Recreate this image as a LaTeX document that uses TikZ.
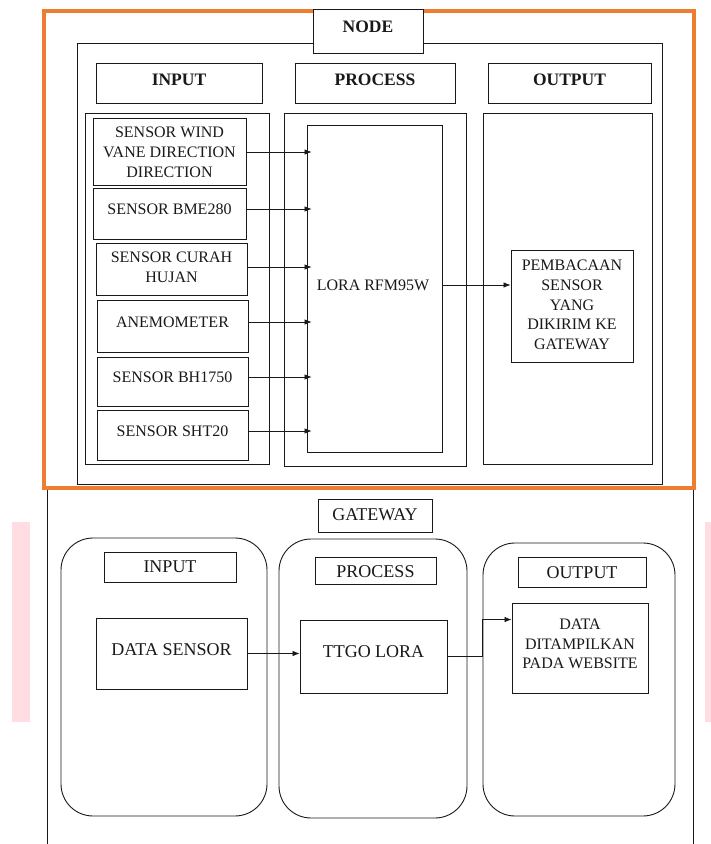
\documentclass[tikz,border=0pt]{standalone}
\usepackage{fontspec}
\setmainfont{Liberation Serif}
\usetikzlibrary{arrows.meta,calc,fit}
\definecolor{frameorange}{RGB}{237,125,49}
\definecolor{softpink}{RGB}{255,221,226}
\definecolor{ink}{RGB}{25,25,25}

\begin{document}
\begin{tikzpicture}[x=1pt,y=-1pt,
  box/.style={draw=ink, line width=0.9pt, inner sep=0pt, fill=white},
  panel/.style={box, fill=none},
  rpanel/.style={panel, rounded corners=32pt},
  txt/.style={font=\fontsize{16}{19.8}\selectfont, align=center, inner sep=0pt, text=ink},
  bigtxt/.style={font=\fontsize{18}{22}\selectfont, align=center, inner sep=0pt, text=ink},
  hdr/.style={font=\fontsize{17.5}{21}\selectfont\bfseries, align=center, inner sep=0pt, text=ink},
  arr/.style={draw=ink, line width=0.7pt, -{Latex[length=7pt,width=5.5pt]}}
]
\useasboundingbox (0,0) rectangle (711,844);

% side marks
\fill[softpink] (12,522) rectangle (30,722);
\fill[softpink] (705,522) rectangle (711,722);

% gateway frame (open at the bottom)
\draw[ink, line width=0.9pt] (47,844) -- (47,488) -- (693,488) -- (693,844);

% node frame
\draw[frameorange, line width=4pt] (44,11) rectangle (694,488);

% ---------------- NODE ----------------
\node[box, fit={(77,43) (662,484)}] (nodepanel) {};
\node[box, fit={(313,9) (423,53)}] (nodetitle) {};
\node[hdr] (nodetitlet) at (368,27) {NODE};

\node[panel, fit={(85,113) (269,464)}] (incol) {};
\node[panel, fit={(284,113) (466,466)}] (proccol) {};
\node[panel, fit={(483,113) (652,464)}] (outcol) {};

\node[box, fit={(96,63) (262,103)}] (inhdr) {};
\node[hdr] (inhdrt) at (179,80) {INPUT};
\node[box, fit={(295,63) (455,103)}] (prochdr) {};
\node[hdr] (prochdrt) at (375,80) {PROCESS};
\node[box, fit={(488,63) (651,103)}] (outhdr) {};
\node[hdr] (outhdrt) at (569.5,80) {OUTPUT};

% sensors
\node[box, fit={(93,118) (246,185)}] (s1) {};
\node[txt] (t1) at (169.5,152) {SENSOR WIND\\VANE DIRECTION\\DIRECTION};
\node[box, fit={(93,188) (246,239)}] (s2) {};
\node[txt] (t2) at (169.5,209) {SENSOR BME280};
\node[box, fit={(96,243) (247,295)}] (s3) {};
\node[txt] (t3) at (171.5,267) {SENSOR CURAH\\HUJAN};
\node[box, fit={(97,300) (248,352)}] (s4) {};
\node[txt] (t4) at (172.5,322) {ANEMOMETER};
\node[box, fit={(97,357) (248,406)}] (s5) {};
\node[txt] (t5) at (172.5,377) {SENSOR BH1750};
\node[box, fit={(97,410) (248,460)}] (s6) {};
\node[txt] (t6) at (172.5,431) {SENSOR SHT20};

% LoRa module
\node[box, fit={(307,125) (442,452)}] (lora) {};
\node[txt] (lt) at (373,285) {LORA RFM95W};

% output of the node
\node[box, fit={(511,250) (633,362)}] (pem) {};
\node[txt] (pemt) at (572,305) {PEMBACAAN\\SENSOR\\YANG\\DIKIRIM KE\\GATEWAY};

\foreach \i in {1,...,6}
  \draw[arr] (s\i.east |- t\i) -- ($(t\i -| lora.west)+(5,0)$);
\draw[arr] (lt -| lora.east) -- (lt -| pem.west);

% ---------------- GATEWAY ----------------
\node[box, fit={(318,499) (432,532)}] (gwtitle) {};
\node[bigtxt] (gwtitlet) at (375,515) {GATEWAY};

\node[rpanel, fit={(61,538) (267,816)}] (gin) {};
\node[rpanel, fit={(279,539) (467,818)}] (gproc) {};
\node[rpanel, fit={(483,543) (675,816)}] (gout) {};

\node[box, fit={(104,552) (236,582)}] (ginhdr) {};
\node[bigtxt] (ginhdrt) at (170,567) {INPUT};
\node[box, fit={(315,557) (436,584)}] (gprochdr) {};
\node[bigtxt] (gprochdrt) at (375.5,572) {PROCESS};
\node[box, fit={(518,557) (646,587)}] (gouthdr) {};
\node[bigtxt] (gouthdrt) at (582,573) {OUTPUT};

\node[box, fit={(96,618) (247,689)}] (ds) {};
\node[bigtxt] (dst) at (171.5,650) {DATA SENSOR};
\node[box, fit={(300,620) (447,693)}] (ttgo) {};
\node[bigtxt] (ttgot) at (373.5,652) {TTGO LORA};
\node[box, fit={(512,603) (648,693)}] (web) {};
\node[txt] (webt) at (580,644) {DATA\\DITAMPILKAN\\PADA WEBSITE};

\draw[arr] (ds.east) -- (ds.east -| ttgo.west);
\draw[arr] (ttgo.east) -- (ttgo.east -| gout.west) |- ($(web.north west)+(0,17)$);
\end{tikzpicture}
\end{document}
